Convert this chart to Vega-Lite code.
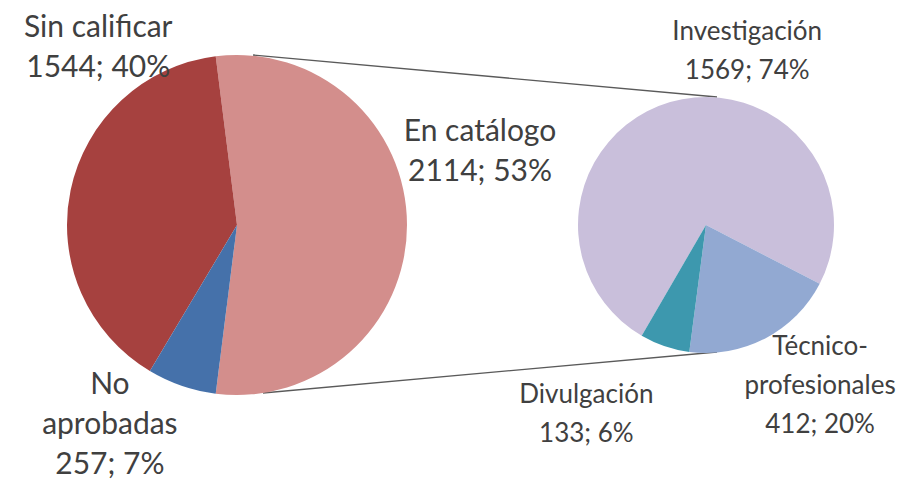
{
  "$schema": "https://vega.github.io/schema/vega-lite/v6.json",
  "width": 898,
  "height": 450,
  "autosize": "none",
  "padding": {"left": 0, "top": 0, "right": 0, "bottom": 30},
  "background": "white",
  "config": {"view": {"stroke": null}, "font": "Lato"},
  "resolve": {"scale": {"theta": "independent"}},
  "layer": [
    {
      "data": {"values": [{"de": "En catálogo", "a": "desglose"}]},
      "layer": [
        {"mark": {"type": "rule", "stroke": "#5a5a5a", "strokeWidth": 1.3},
         "encoding": {"x": {"value": 253}, "y": {"value": 55}, "x2": {"value": 717}, "y2": {"value": 97}}},
        {"mark": {"type": "rule", "stroke": "#5a5a5a", "strokeWidth": 1.3},
         "encoding": {"x": {"value": 263}, "y": {"value": 393}, "x2": {"value": 717}, "y2": {"value": 352}}}
      ]
    },
    {
      "data": {"values": [
        {"pie": "Total", "cat": "En catálogo", "n": 2114, "label": "En catálogo\n2114; 53%"},
        {"pie": "Total", "cat": "Sin calificar", "n": 1544, "label": "Sin calificar\n1544; 40%"},
        {"pie": "Total", "cat": "No aprobadas", "n": 257, "label": "No\naprobadas\n257; 7%"}
      ]},
      "encoding": {
        "x": {"field": "pie", "type": "nominal", "axis": null, "scale": {"type": "point", "padding": 0, "domain": ["Total", "En catálogo"], "range": [237, 706]}},
        "theta": {"field": "n", "type": "quantitative", "stack": true, "scale": {"range": [-0.12566, 6.15753]}}
      },
      "layer": [
        {
          "mark": {"type": "arc", "outerRadius": 170},
          "encoding": {
            "color": {"field": "cat", "type": "nominal", "legend": null,
              "scale": {"domain": ["En catálogo", "Sin calificar", "No aprobadas", "Investigación", "Técnico-profesionales", "Divulgación"],
                        "range": ["#D38E8C", "#A6413F", "#4571AA", "#C9BFDB", "#92A9D2", "#3D98AE"]}}
          }
        },
        {
          "mark": {"type": "text", "radius": 200, "fontSize": 30, "lineHeight": 40, "lineBreak": "\n", "baseline": "middle", "align": "center", "fill": "#404040",
            "dx": {"expr": "datum.cat === 'En catálogo' ? 43 : datum.cat === 'No aprobadas' ? -62 : 57"},
            "dy": {"expr": "datum.cat === 'En catálogo' ? -93 : datum.cat === 'No aprobadas' ? -29 : -156"}},
          "encoding": {"text": {"field": "label"}, "detail": {"field": "cat"}}
        }
      ]
    },
    {
      "data": {"values": [
        {"pie": "En catálogo", "cat": "Investigación", "n": 1569, "label": "Investigación\n1569; 74%"},
        {"pie": "En catálogo", "cat": "Técnico-profesionales", "n": 412, "label": "Técnico-\nprofesionales\n412; 20%"},
        {"pie": "En catálogo", "cat": "Divulgación", "n": 133, "label": "Divulgación\n133; 6%"}
      ]},
      "encoding": {
        "x": {"field": "pie", "type": "nominal", "axis": null, "scale": {"type": "point", "padding": 0, "domain": ["Total", "En catálogo"], "range": [237, 706]}},
        "theta": {"field": "n", "type": "quantitative", "stack": true, "scale": {"range": [3.27249, 9.55567]}}
      },
      "layer": [
        {
          "mark": {"type": "arc", "outerRadius": 128},
          "encoding": {
            "color": {"field": "cat", "type": "nominal", "legend": null,
              "scale": {"domain": ["En catálogo", "Sin calificar", "No aprobadas", "Investigación", "Técnico-profesionales", "Divulgación"],
                        "range": ["#D38E8C", "#A6413F", "#4571AA", "#C9BFDB", "#92A9D2", "#3D98AE"]}}
          }
        },
        {
          "mark": {"type": "text", "radius": 160, "fontSize": 26, "lineHeight": 39, "lineBreak": "\n", "baseline": "middle", "align": "center", "fill": "#404040",
            "dx": {"expr": "datum.cat === 'Investigación' ? 86 : datum.cat === 'Divulgación' ? -68 : 40"},
            "dy": {"expr": "datum.cat === 'Investigación' ? -39 : datum.cat === 'Divulgación' ? 19 : -20"}},
          "encoding": {"text": {"field": "label"}, "detail": {"field": "cat"}}
        }
      ]
    }
  ]
}
